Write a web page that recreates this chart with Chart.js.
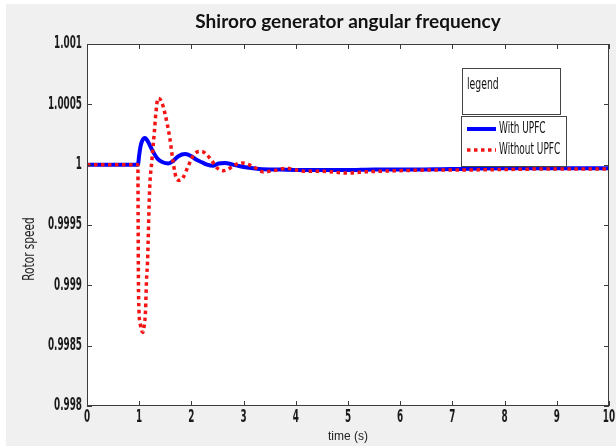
<!DOCTYPE html>
<html>
<head>
<meta charset="utf-8">
<script src="https://cdn.jsdelivr.net/npm/chart.js@4.4.1/dist/chart.umd.min.js"></script>
<style>
    html, body { margin: 0; padding: 0; background: #fff; }
    #wrap { width: 616px; height: 446px; }
</style>
</head>
<body>
<div id="wrap"><canvas id="chart" width="616" height="446"></canvas></div>
<script>
const chartTitle = 'Shiroro generator angular frequency';
const xTitle = 'time (s)';
const yTitle = 'Rotor speed';
const legendTitle = 'legend';
const seriesLabels = ['With UPFC', 'Without UPFC'];

const timeWith = [0, 0.5, 0.975, 1.0, 1.02, 1.05, 1.11, 1.17, 1.25, 1.35, 1.45, 1.56, 1.65, 1.75,
    1.88, 2.0, 2.1, 2.2, 2.3, 2.41, 2.52, 2.64, 2.8, 3.0, 3.3, 3.7, 4.3, 5.0, 5.5, 6.0, 7.0, 8.0, 9.0, 10.0];
const speedWith = [1.0, 1.0, 1.0, 1.00008, 1.00014, 1.00019, 1.00022, 1.00019, 1.00012, 1.00005,
    1.00002, 1.00001, 1.00003, 1.00007, 1.000088, 1.00007, 1.00004, 1.00002, 1.0, 0.99999, 1.00001,
    1.000014, 1.0, 0.99998, 0.999965, 0.99996, 0.999955, 0.999955, 0.99996, 0.99996, 0.999965,
    0.99997, 0.99997, 0.99997];

const timeWithout = [0, 0.5, 0.975, 0.98, 0.985, 0.995, 1.02, 1.07, 1.1, 1.12, 1.14, 1.16, 1.2,
    1.24, 1.29, 1.32, 1.36, 1.42, 1.49, 1.59, 1.65, 1.72, 1.78, 1.85, 1.94, 2.07, 2.2, 2.3, 2.39,
    2.5, 2.61, 2.7, 2.8, 2.96, 3.16, 3.38, 3.57, 3.83, 3.95, 4.21, 4.5, 5.0, 5.3, 5.6, 6.0, 6.5,
    7.0, 8.0, 9.0, 10.0];
const speedWithout = [1.0, 1.0, 1.0, 0.9995, 0.99905, 0.9988, 0.99868, 0.99861, 0.99868, 0.99878,
    0.99904, 0.9992, 0.9998, 1.00002, 1.00027, 1.00043, 1.00055, 1.00053, 1.00043, 1.00021,
    1.00002, 0.99988, 0.99987, 0.9999, 0.99999, 1.000094, 1.00011, 1.00008, 1.000033, 0.99997,
    0.99995, 0.99996, 0.99999, 1.000014, 0.99999, 0.99994, 0.99995, 0.99997, 0.99996, 0.999945,
    0.999945, 0.99993, 0.99994, 0.999945, 0.99995, 0.999955, 0.999955, 0.99996, 0.999965, 0.999965];

const xTickValues = [0, 1, 2, 3, 4, 5, 6, 7, 8, 9, 10];
const xTickLabels = ['0', '1', '2', '3', '4', '5', '6', '7', '8', '9', '10'];
const yTickValues = [0.998, 0.9985, 0.999, 0.9995, 1, 1.0005, 1.001];
const yTickLabels = ['0.998', '0.9985', '0.999', '0.9995', '1', '1.0005', '1.001'];

const frameColor = '#3c3c3c';

function toPoints(xs, ys) {
    return xs.map((x, i) => ({x: x, y: ys[i]}));
}

// the reference uses a tall condensed face, so squeeze DejaVu Sans sideways
function drawNarrow(ctx, text, x, y, align, size, squeeze, weight) {
    ctx.save();
    ctx.translate(x, y);
    ctx.scale(squeeze, 1);
    ctx.font = (weight || 'normal') + ' ' + size + 'px "DejaVu Sans", sans-serif';
    ctx.textAlign = align;
    ctx.textBaseline = 'middle';
    ctx.fillText(text, 0, 0);
    ctx.restore();
}

const framePlugin = {
    id: 'frame',
    beforeDraw(chart) {
        const {ctx, chartArea} = chart;
        ctx.save();
        ctx.fillStyle = '#ffffff';
        ctx.fillRect(0, 0, chart.width, chart.height);
        ctx.fillStyle = '#f0f0f0';
        ctx.fillRect(6, 4, chart.width - 6, chart.height - 4);
        ctx.fillStyle = '#ffffff';
        ctx.fillRect(chartArea.left, chartArea.top,
            chartArea.right - chartArea.left, chartArea.bottom - chartArea.top);
        ctx.restore();
    },
    afterDatasetsDraw(chart) {
        const {ctx, chartArea} = chart;
        const {left, right, top, bottom} = chartArea;
        const xScale = chart.scales.x;
        const yScale = chart.scales.y;
        ctx.save();
        ctx.strokeStyle = frameColor;
        ctx.lineWidth = 1;
        ctx.strokeRect(Math.round(left) + 0.5, Math.round(top) + 0.5,
            Math.round(right - left) - 1, Math.round(bottom - top) - 1);

        // tick marks pointing into the plot
        ctx.beginPath();
        xTickValues.forEach((v) => {
            const px = Math.round(xScale.getPixelForValue(v)) + 0.5;
            ctx.moveTo(px, bottom);
            ctx.lineTo(px, bottom - 5);
            ctx.moveTo(px, top);
            ctx.lineTo(px, top + 5);
        });
        yTickValues.forEach((v) => {
            const py = Math.round(yScale.getPixelForValue(v)) + 0.5;
            ctx.moveTo(left, py);
            ctx.lineTo(left + 5, py);
            ctx.moveTo(right, py);
            ctx.lineTo(right - 5, py);
        });
        ctx.stroke();

        // title, centred over the plot
        ctx.fillStyle = '#111';
        ctx.font = 'bold 19px Lato, "Open Sans", sans-serif';
        ctx.textAlign = 'center';
        ctx.textBaseline = 'middle';
        ctx.fillText(chartTitle, (left + right) / 2, 22);

        // tick labels
        ctx.fillStyle = '#1a1a1a';
        xTickValues.forEach((v, i) => {
            drawNarrow(ctx, xTickLabels[i], xScale.getPixelForValue(v), 418, 'center', 17, 0.52, 'bold');
        });
        yTickValues.forEach((v, i) => {
            drawNarrow(ctx, yTickLabels[i], left - 5, yScale.getPixelForValue(v), 'right', 17, 0.52, 'bold');
        });

        // axis titles
        ctx.fillStyle = '#222';
        ctx.font = '12px "Liberation Sans", Arial, sans-serif';
        ctx.textAlign = 'center';
        ctx.textBaseline = 'middle';
        ctx.fillText(xTitle, (left + right) / 2, 437);

        ctx.save();
        ctx.translate(30, 249);
        ctx.rotate(-Math.PI / 2);
        drawNarrow(ctx, yTitle, 0, 0, 'center', 16, 0.66);
        ctx.restore();

        // legend boxes
        ctx.fillStyle = '#ffffff';
        ctx.strokeStyle = '#444';
        ctx.fillRect(462, 68, 98, 46);
        ctx.strokeRect(462.5, 68.5, 98, 46);
        ctx.fillRect(461, 116, 105, 50);
        ctx.strokeRect(461.5, 116.5, 105, 50);

        ctx.fillStyle = '#111';
        drawNarrow(ctx, legendTitle, 467, 85, 'left', 16, 0.58);

        const rows = [129, 150];
        chart.data.datasets.forEach((ds, i) => {
            const y = rows[i];
            ctx.beginPath();
            ctx.strokeStyle = ds.borderColor;
            ctx.lineWidth = ds.borderWidth;
            ctx.setLineDash(ds.borderDash || []);
            ctx.moveTo(467, y);
            ctx.lineTo(496, y);
            ctx.stroke();
            ctx.setLineDash([]);
            ctx.fillStyle = '#111';
            drawNarrow(ctx, ds.label, 499, y, 'left', 16, 0.56);
        });
        ctx.restore();
    },
};

function buildChart() {
    const ctx = document.getElementById('chart').getContext('2d');
    return new Chart(ctx, {
        type: 'line',
        data: {
            datasets: [
                {
                    label: seriesLabels[0],
                    data: toPoints(timeWith, speedWith),
                    borderColor: '#0000ff',
                    borderWidth: 4,
                    pointRadius: 0,
                    cubicInterpolationMode: 'monotone',
                    order: 1,
                },
                {
                    label: seriesLabels[1],
                    data: toPoints(timeWithout, speedWithout),
                    borderColor: '#f41414',
                    borderWidth: 3.5,
                    borderDash: [3.5, 3.5],
                    pointRadius: 0,
                    cubicInterpolationMode: 'monotone',
                    order: 0,
                },
            ],
        },
        options: {
            responsive: false,
            animation: false,
            events: [],
            layout: {
                padding: {left: 0, right: 7, top: 44, bottom: 0},
            },
            plugins: {
                legend: {display: false},
                tooltip: {enabled: false},
                title: {display: false},
            },
            scales: {
                x: {
                    type: 'linear',
                    min: 0,
                    max: 10,
                    afterFit(scale) {
                        scale.height = 40;
                    },
                    grid: {display: false, drawTicks: false},
                    border: {display: false},
                    ticks: {display: false},
                },
                y: {
                    type: 'linear',
                    min: 0.998,
                    max: 1.001,
                    afterFit(scale) {
                        scale.width = 87;
                    },
                    grid: {display: false, drawTicks: false},
                    border: {display: false},
                    ticks: {display: false},
                },
            },
        },
        plugins: [framePlugin],
    });
}

buildChart();
</script>
</body>
</html>
